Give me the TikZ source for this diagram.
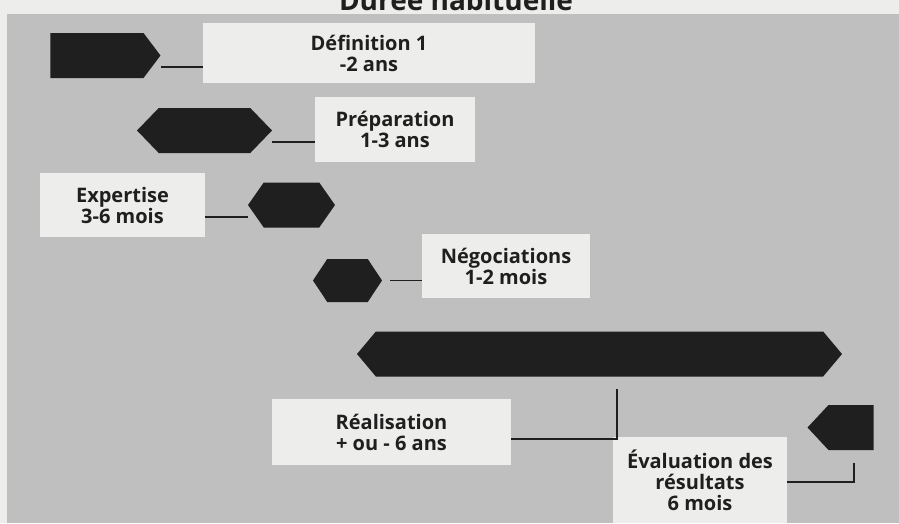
\documentclass[tikz,border=0pt]{standalone}
\usepackage{fontspec}
\setmainfont{Open Sans}
\usetikzlibrary{shapes,shapes.symbols,positioning,calc}
\definecolor{Screen}{rgb}{0.75, 0.75, 0.75}
\definecolor{Paper}{rgb}{0.93, 0.93, 0.92}
\definecolor{Ink}{rgb}{0.12, 0.12, 0.12}
\tikzset{chart layout/.style={%
    y=-1pt,%
    x=1pt,%
    every node/.style={%
        font=\bfseries\fontsize{20}{21}\selectfont, text=Ink%
    }%
}}
\tikzset{phase bar/.style={%
    signal, fill=Ink, inner sep=0pt, minimum height=45pt%
}}
\tikzset{phase label/.style={%
    fill=Paper, align=center, inner sep=0pt%
}}
\tikzset{phase link/.style={%
    draw=Ink, line width=1.8pt%
}}

\begin{document}
\begin{tikzpicture}[chart layout]
    \useasboundingbox (0,0) rectangle (899,523);
    % fond
    \fill[Paper] (0,0) rectangle (899,523);
    \fill[Screen] (7,14) rectangle (899,523);
    \node (title) at (456,10.5) [anchor=base, font=\bfseries\fontsize{28}{30}\selectfont] {Durée habituelle};

    % barres
    \node (defbar) at (97,55.5) [phase bar, signal to=east, signal pointer angle=106, minimum width=110pt] {};
    \node (prepbar) at (204.5,130.5) [phase bar, signal to=east and west, signal pointer angle=92, minimum width=135pt] {};
    \node (expbar) at (291.5,205) [phase bar, signal to=east and west, signal pointer angle=110, minimum width=87pt] {};
    \node (negbar) at (347.5,280.5) [phase bar, signal to=east and west, signal pointer angle=113, minimum width=69pt, minimum height=43pt] {};
    \node (realbar) at (599.5,354) [phase bar, signal to=east and west, signal pointer angle=100, minimum width=485pt] {};
    \node (evalbar) at (851,427.5) [phase bar, signal to=west, signal pointer angle=94, minimum width=66pt] {};

    % etiquettes
    \node (deflab) at (369,53) [phase label, minimum width=332pt, minimum height=60pt] {Définition 1\\-2 ans};
    \node (preplab) at (395,129.5) [phase label, minimum width=160pt, minimum height=65pt] {Préparation\\1-3 ans};
    \node (explab) at (122.5,205) [phase label, minimum width=165pt, minimum height=64pt] {Expertise\\3-6 mois};
    \node (neglab) at (506,266) [phase label, minimum width=168pt, minimum height=64pt] {Négociations\\1-2 mois};
    \node (reallab) at (391.5,432) [phase label, minimum width=239pt, minimum height=66pt] {Réalisation\\+ ou - 6 ans};
    \node (evallab) at (700,480) [phase label, minimum width=174pt, minimum height=86pt] {Évaluation des\\résultats\\6 mois};

    % liens
    \draw[phase link] ([yshift=-11.5pt]defbar.east) -- ([yshift=-11.5pt]defbar.east -| deflab.west);
    \draw[phase link] ([yshift=-11.5pt]prepbar.east) -- ([yshift=-11.5pt]prepbar.east -| preplab.west);
    \draw[phase link] ([yshift=-12pt]explab.east) -- ([yshift=-12pt]explab.east -| expbar.west);
    \draw[phase link] ([xshift=8pt]negbar.east) -- (negbar.east -| neglab.west);
    \draw[phase link] ([xshift=17.5pt,yshift=-12pt]realbar.south) |- ([yshift=-7pt]reallab.east);
    \draw[phase link] ([yshift=-2pt]evallab.east) -| ([xshift=3pt,yshift=-13pt]evalbar.south);
\end{tikzpicture}
\end{document}
